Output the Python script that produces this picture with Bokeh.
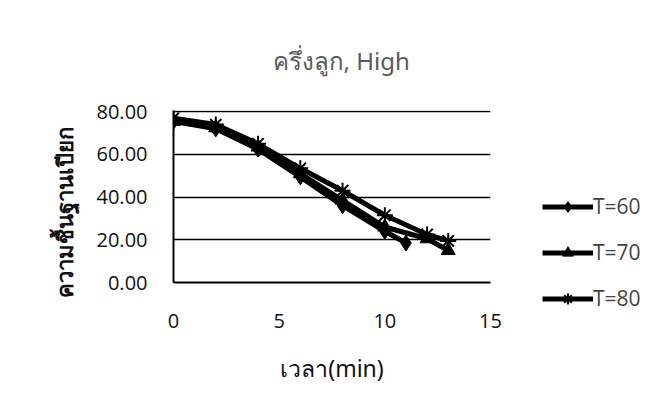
from bokeh.plotting import figure
from bokeh.models import Legend, LegendItem, FixedTicker, Range1d, NumeralTickFormatter, Title
from bokeh.embed import file_html
from bokeh.resources import INLINE

title_text = "ครึ่งลูก, High"
x_label = "เวลา(min)"
y_label = "ความชื้นฐานเปียก"

t60_x = [0, 2, 4, 6, 8, 10, 11]
t60_y = [75.5, 72.0, 62.5, 49.5, 36.0, 24.0, 18.5]
t70_x = [0, 2, 4, 6, 8, 10, 12, 13]
t70_y = [75.5, 72.5, 63.5, 51.0, 38.5, 26.0, 20.5, 15.0]
t80_x = [0, 2, 4, 6, 8, 10, 12, 13]
t80_y = [77.0, 74.0, 65.0, 53.5, 43.0, 31.5, 22.5, 19.5]
series_names = ["T=60", "T=70", "T=80"]
x_ticks = [0, 5, 10, 15]
y_ticks = [0, 20, 40, 60, 80]

W, H = 662, 412
FL, FR, FT, FB = 173, 490, 110, 282

p = figure(frame_width=FR - FL, frame_height=FB - FT, output_backend="svg", toolbar_location=None,
           x_range=Range1d(0, 15), y_range=Range1d(0, 80.6),
           min_border_left=FL, min_border_right=W - FR,
           min_border_top=FT, min_border_bottom=H - FB)
p.background_fill_color = "white"
p.border_fill_color = "white"
p.outline_line_color = None

p.title.text = title_text
p.title.align = "left"
p.title.offset = 99
p.title.text_font = "Noto Sans"
p.title.text_font_size = "24px"
p.title.text_font_style = "normal"
p.title.text_color = "#5a5a5a"
p.title.standoff = 68

p.xgrid.grid_line_color = None
p.ygrid.grid_line_color = "#000000"
p.ygrid.grid_line_width = 1.5
p.ygrid.ticker = FixedTicker(ticks=y_ticks)

p.xaxis.ticker = FixedTicker(ticks=x_ticks)
p.yaxis.ticker = FixedTicker(ticks=y_ticks)
p.yaxis.formatter = NumeralTickFormatter(format="0.00")
for ax in (p.xaxis, p.yaxis):
    ax.axis_line_color = "black"
    ax.axis_line_width = 2
    ax.major_tick_line_color = None
    ax.minor_tick_line_color = None
    ax.major_label_text_font = "Open Sans"
    ax.major_label_text_font_size = "20px"
    ax.major_label_text_color = "#111111"
    ax.axis_label_text_font = "Noto Sans"
    ax.axis_label_text_color = "#111111"
p.xaxis.major_label_standoff = 25
p.yaxis.major_label_standoff = 20
p.xaxis.axis_label = x_label
p.xaxis.axis_label_standoff = 21
p.xaxis.axis_label_text_font_size = "23px"
p.xaxis.axis_label_text_font_style = "normal"

y_title = Title(text=y_label, align="left", offset=-15, standoff=30,
                text_font="Noto Sans", text_font_size="22px", text_font_style="bold",
                text_color="#111111")
p.add_layout(y_title, "left")

lw = 5
r60 = p.line(t60_x, t60_y, line_color="black", line_width=lw)
m60 = p.scatter(t60_x, t60_y, marker="diamond", size=16, color="black")
r70 = p.line(t70_x, t70_y, line_color="black", line_width=lw)
m70 = p.scatter(t70_x, t70_y, marker="triangle", size=14, color="black")
r80 = p.line(t80_x, t80_y, line_color="black", line_width=lw)
m80 = p.scatter(t80_x, t80_y, marker="asterisk", size=16, line_color="black", line_width=2)

legend = Legend(items=[LegendItem(label=series_names[0], renderers=[r60, m60]),
                       LegendItem(label=series_names[1], renderers=[r70, m70]),
                       LegendItem(label=series_names[2], renderers=[r80, m80])],
                location=(52, -30), orientation="vertical",
                glyph_width=51, glyph_height=27, spacing=18, padding=0, margin=0,
                label_text_font="Open Sans", label_text_font_size="21px",
                label_height=27, label_standoff=0, border_line_color=None,
                background_fill_alpha=0)
p.add_layout(legend, "right")

open("out.html", "w").write(file_html(p, INLINE))
